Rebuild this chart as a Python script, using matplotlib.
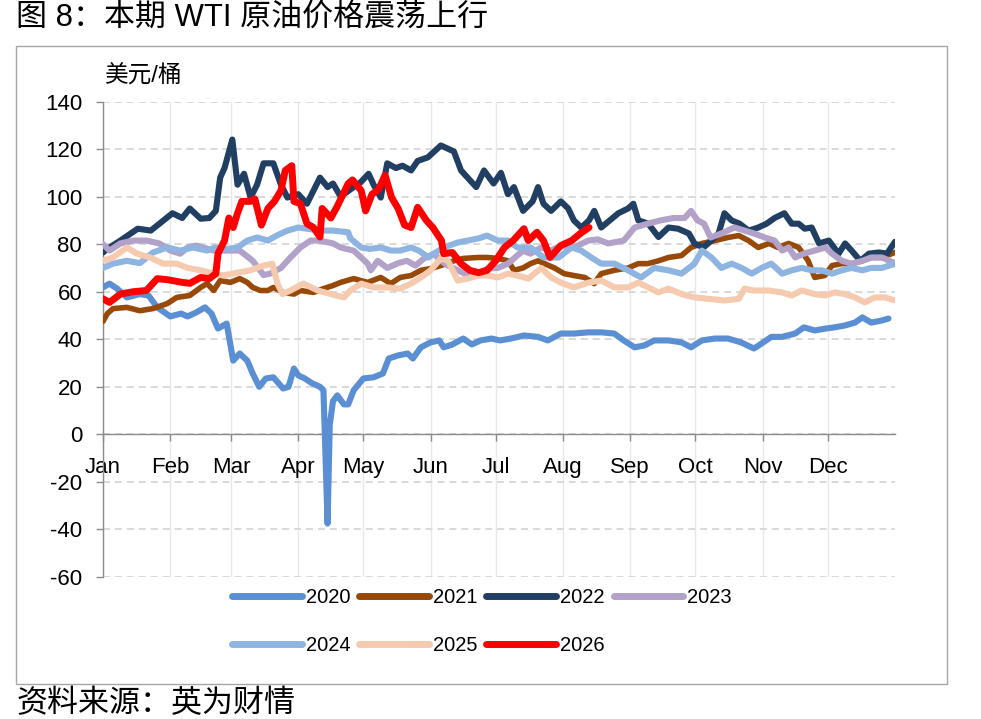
import matplotlib
matplotlib.use('Agg')
import matplotlib.pyplot as plt
from matplotlib.patches import Rectangle
from matplotlib.lines import Line2D

plt.rcParams['font.family'] = ['Liberation Sans', 'Noto Sans CJK SC', 'DejaVu Sans']
plt.rcParams['axes.unicode_minus'] = False
plt.rcParams['lines.scale_dashes'] = False

# ---------------- data ----------------
months = ['Jan', 'Feb', 'Mar', 'Apr', 'May', 'Jun', 'Jul', 'Aug', 'Sep', 'Oct', 'Nov', 'Dec']
month_days = [0, 31, 59, 90, 120, 151, 181, 212, 243, 273, 304, 334]
y_ticks = [-60, -40, -20, 0, 20, 40, 60, 80, 100, 120, 140]
y_ticklabels = ['-60', '-40', '-20', '0', '20', '40', '60', '80', '100', '120', '140']
years = ['2020', '2021', '2022', '2023', '2024', '2025', '2026']
colors = ['#5B8FD3', '#984807', '#213F62', '#B2A1C8', '#8EB4E2', '#F6CAAE', '#FF0000']

d2020 = [0, 3, 6.5, 11, 17, 21, 25, 31, 36, 39, 43, 47, 50, 53, 57, 60, 63, 66.5, 69, 72, 75, 78.5, 83, 85.5,
         88, 90, 93, 96.5, 100, 101.6, 103.5, 104.5, 106, 108, 111, 113, 115.5, 120, 124.7, 129, 131.7, 136,
         140.4, 142.8, 146.5, 151, 155, 157, 161, 166, 170, 174, 179, 183, 188, 194, 200.5, 205, 211, 217,
         223.6, 229.6, 235.6, 240, 245, 249.5, 254, 260.6, 266.6, 271, 276, 282, 288, 294, 300, 303.5, 308,
         313, 319, 323, 328, 333, 337, 342, 346.5, 350, 354, 359, 362]
v2020 = [61.8, 63.4, 61.3, 57.6, 59, 58.4, 53.4, 49.6, 50.8, 49.6, 51.3, 53.4, 50.8, 44.5, 46.6, 31, 34, 31,
         25.6, 20, 23.5, 24, 19.3, 20, 27.7, 24.8, 23.5, 21.4, 20, 18.5, -37.5, 4, 14, 16.4, 12.6, 12.6, 18.5,
         23.5, 24, 25.6, 31.9, 33.2, 34, 31.9, 36.6, 38.7, 39.5, 36.6, 37.8, 40.3, 37.8, 39.5, 40.3, 39.5, 40.3,
         41.6, 41, 39.5, 42.4, 42.4, 42.9, 42.9, 42.4, 39.5, 36.6, 37.4, 39.5, 39.5, 38.7, 36.6, 39.5, 40.3,
         40.3, 38.7, 36.1, 38.2, 41, 41, 42.4, 45, 43.7, 44.5, 45, 45.8, 47, 49.2, 47, 47.9, 48.7]

d2021 = [0, 2, 4.6, 11, 17, 23, 29.6, 34, 40, 45, 48, 51, 54, 58.7, 63, 66.5, 69, 72.5, 76, 78.5, 83, 88, 91,
         97, 101.6, 106, 109.5, 115.5, 122, 128, 132.6, 137, 142, 146.5, 151, 155.7, 161.7, 166, 173, 177,
         182, 186.6, 189.4, 193.6, 197, 200.5, 203, 208, 212.5, 217, 222, 226.4, 229.6, 235.6, 242, 246.7,
         251, 256, 260.6, 266.6, 271, 276, 282, 288, 293, 297.5, 302, 307, 311, 316, 320.6, 325, 328, 332.6,
         336, 340.5, 345, 350, 354, 359, 365]
v2021 = [47.5, 50.8, 52.9, 53.4, 52, 52.9, 55, 57.6, 58.4, 61.8, 63.4, 60.5, 64.7, 63.9, 65.5, 63.9, 61.8,
         60.5, 60.5, 61.8, 59.7, 59, 60.5, 59.7, 61.3, 62.6, 63.9, 65.5, 63.9, 66, 63.4, 66, 66.8, 69, 69.7,
         71, 73, 74, 74.4, 74.4, 74, 73, 69, 70, 71.8, 73, 72, 70, 67.6, 66.8, 66, 63.4, 67.6, 69, 70, 71.8,
         71.8, 73, 74.4, 75.2, 78.6, 80.3, 81.5, 82.8, 83.6, 81.5, 78.6, 80.3, 78.6, 80.3, 78.6, 73, 66, 66.8,
         71, 71.8, 71.8, 73, 74.4, 74.4, 76.5]

d2022 = [0, 2, 8, 16, 22, 26, 32, 36.5, 40, 45, 49, 52, 54, 56, 59.6, 62, 65, 68, 71, 74, 78.5, 82, 85, 90,
         94, 100, 103.5, 106, 109.5, 115.5, 118.7, 122.4, 124.7, 128, 131, 135, 138, 142, 145, 149.7, 155.7,
         161.7, 165, 168, 172, 175.6, 180, 183.4, 186.6, 189.4, 193.6, 198, 200.5, 203, 206.5, 211, 214.4,
         217, 220.4, 224, 226.4, 229.6, 237.5, 242, 244.4, 246.7, 251.3, 256, 260.6, 265, 270, 272.6, 276.7,
         280.4, 283.7, 286.4, 289.7, 293.4, 297.5, 302, 305.8, 309.5, 314, 317.4, 320.6, 323.4, 326.6, 330,
         334.5, 339, 342, 345, 349, 353, 357.6, 361.3, 365]
v2022 = [76.5, 78, 81.5, 86.5, 85.7, 88.6, 93, 91, 95, 90.7, 91, 94, 108, 112, 124, 105, 109.6, 99.6, 105,
         114, 114, 105, 99.6, 101, 97, 108, 104, 105.5, 100, 104, 106, 109.6, 105, 99.6, 114, 112, 113, 111,
         115, 116.5, 121.5, 119, 111, 108, 104, 111, 105.5, 110, 101, 104, 94, 98, 104, 97, 94, 98, 95, 90, 87,
         90, 94, 87, 93, 95, 97, 90, 88.6, 83, 87, 86.5, 84.5, 80.3, 78.6, 81.5, 84.5, 93, 90, 88.6, 85.7, 87,
         88.6, 91, 93, 88.6, 88.6, 86.5, 87, 80.3, 81.5, 76, 80.3, 77.3, 73, 76, 76.5, 76, 81]

d2023 = [0, 3, 8, 14, 20, 26, 31, 35.6, 39, 43, 51, 63, 69, 74, 77, 82, 86.4, 91, 95.6, 100, 106, 109.5,
         115.5, 122, 123.4, 126.6, 131, 136, 140, 144, 148, 152.5, 155.7, 159, 163.5, 168, 173, 177.4, 182,
         186.6, 189.4, 193.6, 197, 202, 206.5, 211, 217, 223.6, 228, 232.8, 240, 245, 251, 257, 263, 268, 271,
         274, 277, 280, 285, 291, 295.7, 300, 305, 309.5, 313, 316, 319, 323, 328, 333, 336, 340.5, 345, 350,
         354, 359, 365]
v2023 = [80, 77.3, 80.3, 81.5, 81.5, 80.3, 77.3, 76, 78.6, 79.4, 77.3, 77.3, 73, 67, 67.6, 70, 74.4, 78.6,
         81.5, 81.5, 80.3, 78.6, 77.3, 71.8, 69, 73, 70, 72, 73, 71, 74, 76, 73, 71, 69, 67, 67.6, 69.7, 70,
         71.8, 74, 77.3, 76, 78.6, 77.3, 79.4, 78.6, 81.5, 82, 80.3, 81.5, 87, 88.6, 90, 91, 91, 94, 90, 88.6,
         82.8, 84.5, 87, 85.7, 84.5, 82.8, 81.5, 77.3, 78.6, 74.4, 76, 77.3, 78.6, 76, 73, 71.8, 73, 74.4,
         74.4, 72]

d2024 = [0, 4.6, 11, 17, 23, 29.6, 35.6, 41.6, 48, 51.7, 57, 62, 66.5, 71, 76, 80, 85, 90, 94, 100, 106,
         113, 114, 119, 123, 128, 132.6, 137, 142, 145.5, 150, 152.5, 157, 163.5, 168, 173, 177, 182, 186.6,
         191, 197, 203, 210, 216, 220.4, 225, 229.6, 235.6, 242, 248, 254, 260.6, 266.6, 272.6, 276, 280.4,
         285, 289.7, 294.3, 299, 303.5, 308, 313, 317.4, 322, 326.6, 331, 336, 340.5, 345, 350, 354, 359, 365]
v2024 = [70, 71.8, 73, 72, 76.5, 78.6, 77.3, 78.6, 77.3, 78.6, 78, 78.6, 81.5, 82.8, 81.5, 83.6, 85.7, 87,
         86.5, 85.7, 85.7, 85, 82.4, 78.6, 78, 78.6, 77.3, 77.3, 78.6, 77.3, 74.4, 76, 78.6, 80.7, 81.5, 82.4,
         83.6, 81.5, 81.5, 78.6, 78.6, 74.4, 74.4, 78.6, 77.3, 74.4, 71.8, 71.8, 69, 66, 70, 69, 67.6, 71.8,
         77.3, 74.4, 70, 71.8, 70, 67.6, 70, 71.8, 67.6, 69, 70, 69, 69, 67.6, 69, 70, 69, 70, 70, 71.8]

d2025 = [0, 4.6, 11, 15.7, 21.7, 27.7, 34, 39, 45, 51, 55.4, 62, 68, 74, 78, 80.4, 82.7, 86.4, 92.4, 99, 105,
         111, 114, 119, 124.7, 131, 137, 142, 146.5, 151, 155.7, 159, 163.5, 168, 173, 177.4, 182, 186.6, 191,
         196, 202, 206.5, 211, 217, 223.6, 229.6, 235.6, 242, 246.7, 251.3, 256, 260.6, 266.6, 272.6, 279,
         286.4, 293, 295.7, 300, 306.8, 313, 317.4, 322, 328, 332.6, 337.3, 342, 346.5, 351, 355.7, 360.4, 365]
v2025 = [73, 74.4, 78.6, 76, 74.4, 71.8, 71.8, 70, 69, 67.6, 66.8, 68, 69, 71, 71.8, 63.4, 59, 60.5, 63.4,
         60.5, 59, 57.6, 60.5, 63.4, 61.8, 61.8, 61.3, 63.4, 66, 69, 74, 73, 64.7, 65.5, 66.8, 66.8, 66, 67.6,
         66.8, 65.5, 70, 66, 63.8, 61.8, 63.8, 64.7, 61.8, 61.8, 63.8, 61.8, 59.7, 61.3, 59, 57.6, 57, 56.3, 57,
         61.3, 60.5, 60.5, 59.7, 58.4, 60.5, 59, 58.4, 59.7, 59, 57.6, 55.5, 57.6, 57.6, 56.3]

d2026 = [0, 3, 8, 14, 20, 25, 30, 36, 40, 45, 49, 52, 53, 56, 58, 60, 62, 64, 68, 70, 73, 76, 79, 82, 84,
         87, 88, 91, 94, 97, 100, 101, 105, 108, 113, 115, 119, 121, 124, 127, 130, 133, 136, 139, 142, 145,
         149, 152, 156, 157, 161, 165, 169, 173, 177, 181, 185, 189, 194, 196, 200, 203, 206, 211, 216, 220,
         224]
v2026 = [57, 55.5, 59, 60, 60.5, 65.5, 65, 64, 63.5, 66, 65.5, 67.6, 76, 81.5, 91, 87, 93, 98, 98, 99, 88,
         95, 98, 102.5, 111, 113, 98, 97, 88.6, 87, 83, 95, 91, 96, 105.5, 107, 102.5, 94, 101, 103, 109,
         99.6, 95, 88, 87, 95.5, 90, 87, 81.5, 76, 76.5, 71.8, 69, 68, 69, 73, 78.6, 81.5, 86.5, 81.5, 85,
         81.5, 74.4, 79.4, 81.5, 84.5, 87]

series_days = [d2020, d2021, d2022, d2023, d2024, d2025, d2026]
series_vals = [v2020, v2021, v2022, v2023, v2024, v2025, v2026]

# ---------------- figure ----------------
W, H = 981, 719
fig = plt.figure(figsize=(W / 100, H / 100), dpi=100)

# outer frame
fig.patches.append(Rectangle((16 / W, 1 - 684 / H), 931 / W, 638 / H, transform=fig.transFigure,
                             fill=False, edgecolor='#A6A6A6', linewidth=1.0))

ax = fig.add_axes([103 / W, 1 - 577 / H, 792 / W, 475.5 / H])
ax.set_xlim(0, 365)
ax.set_ylim(-60, 140)

widths = [4.4, 4.0, 4.4, 4.4, 4.4, 4.4, 5.0]
for i, (dd, vv) in enumerate(zip(series_days, series_vals)):
    ax.plot(dd, vv, color=colors[i], lw=widths[i], solid_capstyle='round', solid_joinstyle='round',
            zorder=3 + i, label=years[i])

# axes styling
for s in ['top', 'right']:
    ax.spines[s].set_visible(False)
ax.spines['bottom'].set_position(('data', 0))
for s in ['left', 'bottom']:
    ax.spines[s].set_color('#8C8C8C')
    ax.spines[s].set_linewidth(1.0)

ax.set_xticks(month_days)
ax.set_xticklabels(months, fontsize=16)
ax.set_yticks(y_ticks)
ax.set_yticklabels(y_ticklabels, fontsize=16)
ax.tick_params(axis='x', direction='out', length=5, width=1, color='#8C8C8C', pad=11)
ax.tick_params(axis='y', direction='out', length=5, width=1, color='#8C8C8C', pad=10)

ax.set_axisbelow(True)
ax.yaxis.grid(True, linestyle=(0, (5, 3.6)), color='#D9D9D9', linewidth=1.4)
ax.xaxis.grid(True, linestyle='-', color='#E8E8E8', linewidth=1.0)

# unit label
fig.text(105 / W, 1 - 76 / H, '美元/桶', fontsize=17, va='center', ha='left')

# title & source
fig.text(16 / W, 1 - 18 / H, '图 8：本期 WTI 原油价格震荡上行', fontsize=22.3, va='center', ha='left')
fig.text(16 / W, 1 - 704 / H, '资料来源：英为财情', fontsize=22.3, va='center', ha='left')

# legend (row-major order via column-major reordering)
handles = [Line2D([0], [0], color=colors[i], lw=5, solid_capstyle='round') for i in range(7)]
order = [0, 4, 1, 5, 2, 6, 3]
fig.legend([handles[i] for i in order], [years[i] for i in order], loc='center',
           bbox_to_anchor=(482 / W, 1 - 621.5 / H), ncol=4, frameon=False, fontsize=14.5,
           handlelength=3.45, handletextpad=0.2, columnspacing=0.45, labelspacing=1.45)

fig.savefig('out.png', dpi=100)
